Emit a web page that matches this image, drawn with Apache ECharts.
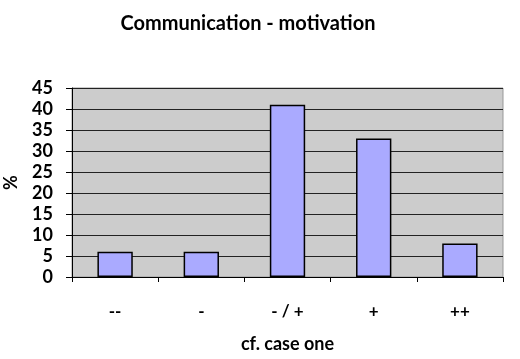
<!DOCTYPE html>
<html><head><meta charset="utf-8">
<script src="https://cdn.jsdelivr.net/npm/echarts@6/dist/echarts.min.js"></script>
<style>html,body{margin:0;padding:0;background:#fff}#c{width:520px;height:359px}</style>
</head><body><div id="c"></div>
<script>
const categories = ['--', '-', '- / +', '+', '++'];
const values = [6, 6, 41, 33, 8];
const yTicks = [0, 5, 10, 15, 20, 25, 30, 35, 40, 45];
const titleText = 'Communication - motivation';
const xName = 'cf. case one';
const yName = '%';

const font = 'Lato, "Open Sans", sans-serif';
const chart = echarts.init(document.getElementById('c'), null, {renderer: 'canvas'});
chart.setOption({
  animation: false,
  backgroundColor: '#ffffff',
  title: {
    text: titleText, left: 243, top: 9, textAlign: 'center',
    textStyle: {fontFamily: font, fontWeight: 'bold', fontSize: 20, color: '#000'}
  },
  grid: {left: 72, right: 17, top: 88, bottom: 82, containLabel: false, outerBoundsMode: 'none',
    show: true, backgroundColor: '#cccccc', borderColor: '#999', borderWidth: 1},
  xAxis: {
    type: 'category', data: categories,
    name: xName, nameLocation: 'middle', nameGap: 58,
    nameTextStyle: {fontFamily: font, fontWeight: 'bold', fontSize: 18, color: '#000'},
    axisLine: {show: true, lineStyle: {color: '#000', width: 1}},
    axisTick: {show: true, alignWithLabel: false, length: 5, lineStyle: {color: '#000'}},
    axisLabel: {fontFamily: font, fontWeight: 'bold', fontSize: 17, color: '#000', margin: 26}
  },
  yAxis: {
    type: 'value', min: 0, max: 45, interval: 5,
    name: yName, nameLocation: 'middle', nameGap: 52, nameRotate: 90,
    nameTextStyle: {fontFamily: font, fontWeight: 'bold', fontSize: 18, color: '#000'},
    axisLine: {show: true, lineStyle: {color: '#000', width: 1}},
    axisTick: {show: true, inside: false, length: 6, lineStyle: {color: '#000'}},
    axisLabel: {fontFamily: font, fontWeight: 'bold', fontSize: 18, color: '#000', margin: 19,
      formatter: v => yTicks.includes(v) ? String(v) : ''},
    splitLine: {show: true, lineStyle: {color: '#222', width: 1}}
  },
  series: [{
    type: 'bar', data: values, barWidth: '41%',
    itemStyle: {color: '#aaaaff', borderColor: '#000', borderWidth: 1.5}
  }]
});
</script></body></html>
